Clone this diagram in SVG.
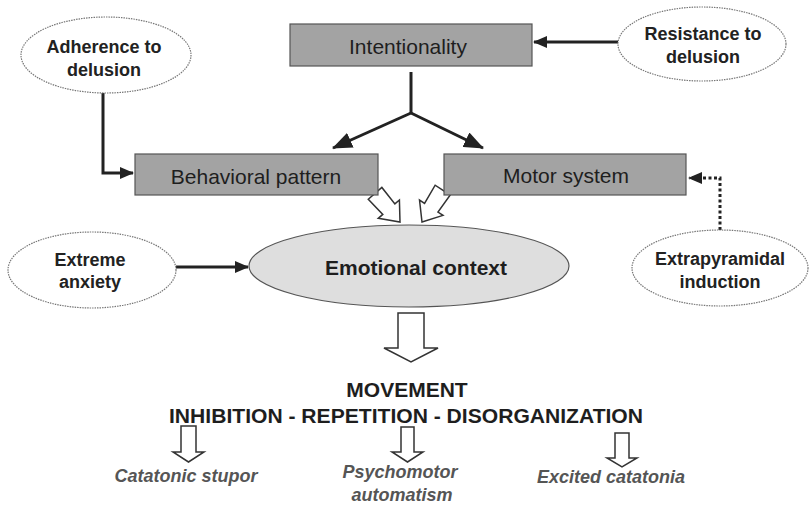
<svg xmlns="http://www.w3.org/2000/svg" width="809" height="507" viewBox="0 0 809 507">
<style>
.box{fill:#a3a3a3;stroke:#555;stroke-width:1.2}
.oval{fill:#fff;stroke:#777;stroke-width:1.2;stroke-dasharray:1.5 1}
.bt{font-family:"Liberation Sans",Arial,sans-serif;font-size:21px;fill:#1e1e1e;text-anchor:middle}
.ot{font-family:"Liberation Sans",Arial,sans-serif;font-size:18px;font-weight:bold;fill:#222;text-anchor:middle}
.big{font-family:"Liberation Sans",Arial,sans-serif;font-size:21px;font-weight:bold;fill:#1e1e1e;text-anchor:middle}
.it{font-family:"Liberation Sans",Arial,sans-serif;font-size:18px;font-weight:bold;font-style:italic;fill:#555;text-anchor:middle}
.ln{fill:none;stroke:#222;stroke-width:3}
.hol{fill:#fff;stroke:#333;stroke-width:1.5;stroke-linejoin:miter}
</style>
<defs>
<marker id="ah" markerUnits="userSpaceOnUse" markerWidth="14" markerHeight="12" refX="13" refY="6" orient="auto">
<path d="M0,0 L14,6 L0,12 Z" fill="#222"/>
</marker>
<marker id="ahb" markerUnits="userSpaceOnUse" markerWidth="20" markerHeight="16" refX="19" refY="8" orient="auto">
<path d="M0,0 L20,8 L0,16 Z" fill="#222"/>
</marker>
</defs>
<g id="connectors">
<path class="ln" d="M103,93 V173 H133" marker-end="url(#ah)"/>
<path class="ln" d="M618,42 H534" marker-end="url(#ah)"/>
<path class="ln" d="M176,267 H248" marker-end="url(#ah)"/>
<path class="ln" d="M720,230 V178 H689" stroke-dasharray="3 2.5" marker-end="url(#ah)"/>
<path class="ln" d="M411,72 V113" stroke-width="5"/>
<path class="ln" d="M411,113 L333,148" stroke-width="5" marker-end="url(#ahb)"/>
<path class="ln" d="M411,113 L483,148" stroke-width="5" marker-end="url(#ahb)"/>
<polygon class="hol" transform="translate(400,222) rotate(49)" points="0,0 -17,-14 -17,-8 -38,-9 -38,9 -17,8 -17,14"/>
<polygon class="hol" transform="translate(422,222) rotate(123)" points="0,0 -17,-14 -17,-8 -38,-9 -38,9 -17,8 -17,14"/>
<polygon class="hol" points="398,313 424,313 424,348 438,348 411,362 384,348 398,348"/>
<polygon class="hol" points="181,426 196,426 196,452 204,452 188.5,462 173,452 181,452"/>
<polygon class="hol" points="401,427 414,427 414,452 423,452 407.5,462 392,452 401,452"/>
<polygon class="hol" points="615,433 629,433 629,458 637,458 622,467 607,458 615,458"/>
</g>
<g id="intentionality">
<rect class="box" x="290" y="24" width="242" height="42"/>
<text class="bt" x="408" y="54">Intentionality</text>
</g>
<g id="behavioral">
<rect class="box" x="135" y="154" width="243" height="41"/>
<text class="bt" x="256" y="184">Behavioral pattern</text>
</g>
<g id="motor">
<rect class="box" x="444" y="154" width="242" height="41"/>
<text class="bt" x="566" y="183">Motor system</text>
</g>
<g id="adherence">
<ellipse class="oval" cx="106" cy="55" rx="85" ry="38"/>
<text class="ot" x="104" y="53">Adherence to</text>
<text class="ot" x="104" y="76">delusion</text>
</g>
<g id="resistance">
<ellipse class="oval" cx="702" cy="44" rx="84" ry="37"/>
<text class="ot" x="703" y="40">Resistance to</text>
<text class="ot" x="703" y="63">delusion</text>
</g>
<g id="anxiety">
<ellipse class="oval" cx="92" cy="270" rx="84" ry="38"/>
<text class="ot" x="90" y="266">Extreme</text>
<text class="ot" x="90" y="288">anxiety</text>
</g>
<g id="extrapyramidal">
<ellipse class="oval" cx="720" cy="268" rx="88" ry="38"/>
<text class="ot" x="720" y="265">Extrapyramidal</text>
<text class="ot" x="720" y="288">induction</text>
</g>
<g id="emotional">
<ellipse cx="409" cy="266" rx="160" ry="41" fill="#dedede" stroke="#555" stroke-width="1.2"/>
<text class="big" x="416" y="275">Emotional context</text>
</g>
<g id="movement">
<text class="big" x="407" y="397">MOVEMENT</text>
<text class="big" x="406" y="423" textLength="474" lengthAdjust="spacingAndGlyphs">INHIBITION - REPETITION - DISORGANIZATION</text>
</g>
<g id="outcomes">
<text class="it" x="186" y="482">Catatonic stupor</text>
<text class="it" x="400" y="478">Psychomotor</text>
<text class="it" x="402" y="501">automatism</text>
<text class="it" x="611" y="483">Excited catatonia</text>
</g>
</svg>
